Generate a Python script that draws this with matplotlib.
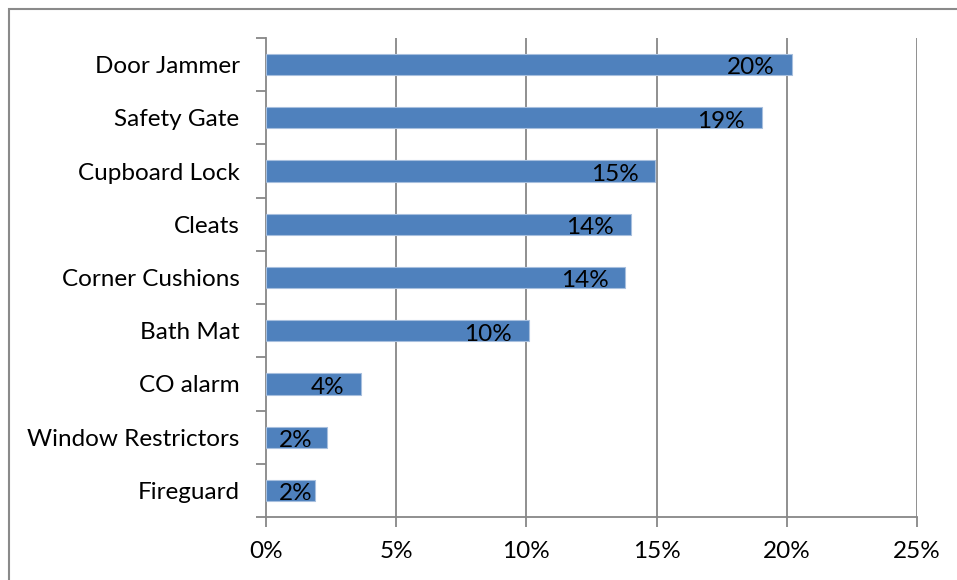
import matplotlib
matplotlib.use("Agg")
import matplotlib.pyplot as plt
from matplotlib.patches import Rectangle
import numpy as np

categories = ["Door Jammer", "Safety Gate", "Cupboard Lock", "Cleats", "Corner Cushions",
              "Bath Mat", "CO alarm", "Window Restrictors", "Fireguard"]
values = [20.2, 19.05, 14.95, 14.0, 13.8, 10.1, 3.65, 2.35, 1.9]
labels = ["20%", "19%", "15%", "14%", "14%", "10%", "4%", "2%", "2%"]
xticks = [0, 5, 10, 15, 20, 25]
xticklabels = ["0%", "5%", "10%", "15%", "20%", "25%"]

plt.rcParams['font.family'] = ['Lato', 'DejaVu Sans']
FS = 17.5
W, H = 957, 580
fig = plt.figure(figsize=(W/100, H/100), dpi=100)
ax = fig.add_axes([266/W, 1-517/H, (917-266)/W, (517-38)/H])

n = len(categories)
ypos = np.arange(n)[::-1]
grid_c = "#878787"
ax.barh(ypos, values, height=0.4, color="#4F81BD", edgecolor="#A7BFDE", linewidth=0.8, zorder=3)
for y, v, l in zip(ypos, values, labels):
    ax.text(max(v - 0.65, 1.8), y - 0.185, l, ha="right", va="baseline", fontsize=FS, color="black", zorder=4)

ax.set_xlim(0, 25)
ax.set_ylim(-0.5, n - 0.5)
ax.set_xticks(xticks)
ax.set_xticklabels(xticklabels, fontsize=FS)
for x in xticks[1:]:
    ax.axvline(x, color=grid_c, lw=1.3, zorder=1)
ax.set_yticks(ypos)
ax.set_yticklabels(categories, fontsize=FS)
ax.set_yticks(np.arange(-0.5, n, 1.0), minor=True)
ax.tick_params(axis="y", which="major", length=0, pad=19)
ax.tick_params(axis="y", which="minor", length=7, color=grid_c, width=1.3, direction="out")
ax.tick_params(axis="x", length=7, color=grid_c, width=1.3, direction="out", pad=10)
for s in ["top", "right"]:
    ax.spines[s].set_visible(False)
for s in ["left", "bottom"]:
    ax.spines[s].set_color(grid_c)
    ax.spines[s].set_linewidth(1.3)

fig.patches.append(Rectangle((9/W, -0.1), 1.2, 1 - 9/H + 0.1, transform=fig.transFigure,
                             fill=False, edgecolor="#8a8a8a", linewidth=1.5, zorder=0))

fig.savefig("out.png", dpi=100)
